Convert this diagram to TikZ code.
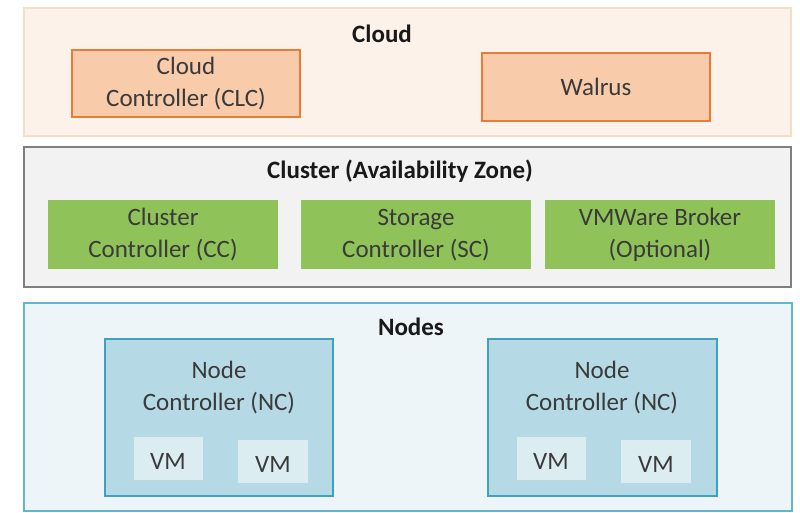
\documentclass[tikz,border=0pt]{standalone}
\usepackage{fontspec}
\setmainfont{Carlito}
\definecolor{cloudbg}{HTML}{FDF2EA}
\definecolor{cloudbd}{HTML}{F7DCC8}
\definecolor{orfill}{HTML}{F8CBAA}
\definecolor{orbd}{HTML}{EA7A35}
\definecolor{clbg}{HTML}{F2F2F2}
\definecolor{clbd}{HTML}{7F7F7F}
\definecolor{green}{HTML}{8FC35A}
\definecolor{ndbg}{HTML}{EDF5F8}
\definecolor{ndbd}{HTML}{62B6CC}
\definecolor{ncfill}{HTML}{B5DAE5}
\definecolor{ncbd}{HTML}{41A1BC}
\definecolor{vmfill}{HTML}{DCEDF2}
\definecolor{txt}{HTML}{3A3A3A}
\tikzset{
  every node/.style={font=\fontsize{25}{32}\selectfont, text=txt, inner sep=0pt, align=center},
  title/.style={font=\fontsize{25}{32}\selectfont\bfseries, text=black!90},
  region/.style={draw, rectangle, line width=1.6pt},
  orbox/.style={draw=orbd, fill=orfill, line width=2pt},
  grbox/.style={fill=green},
  ncbox/.style={draw=ncbd, fill=ncfill, line width=2pt},
  vmbox/.style={fill=vmfill}
}
\begin{document}
\begin{tikzpicture}[x=1pt,y=-1pt]
\useasboundingbox (0,0) rectangle (800,512);
% Cloud
\draw[region, draw=cloudbd, fill=cloudbg] (24,8) rectangle (791,136);
\node[title] (cloudt) at (382,34) {Cloud};
\draw[orbox] (72,50) rectangle (300,117);
\node (clc) at (186,84) {Cloud\\Controller (CLC)};
\draw[orbox] (482,53) rectangle (710,121);
\node (walrus) at (596,87) {Walrus};
% Cluster
\draw[region, draw=clbd, fill=clbg, line width=2pt] (24,147) rectangle (791,287);
\node[title] (clustt) at (400,171) {Cluster (Availability Zone)};
\fill[grbox] (48,200) rectangle (278,269);
\node (cc) at (163,235) {Cluster\\Controller (CC)};
\fill[grbox] (301,200) rectangle (531,269);
\node (sc) at (416,235) {Storage\\Controller (SC)};
\fill[grbox] (545,200) rectangle (775,269);
\node (vmw) at (660,235) {VMWare Broker\\(Optional)};
% Nodes
\draw[region, draw=ndbd, fill=ndbg] (24,303) rectangle (792,511);
\node[title] (nodest) at (411,327) {Nodes};
\draw[ncbox] (105,339) rectangle (333,496);
\node (nc1) at (219,388) {Node\\Controller (NC)};
\fill[vmbox] (134,437) rectangle (203,480);
\node (vm1) at (168,461) {VM};
\fill[vmbox] (238,440) rectangle (308,483);
\node (vm2) at (273,464) {VM};
\draw[ncbox] (488,339) rectangle (717,496);
\node (nc2) at (602,388) {Node\\Controller (NC)};
\fill[vmbox] (517,437) rectangle (586,480);
\node (vm3) at (551,461) {VM};
\fill[vmbox] (621,440) rectangle (691,483);
\node (vm4) at (656,464) {VM};
\end{tikzpicture}
\end{document}
